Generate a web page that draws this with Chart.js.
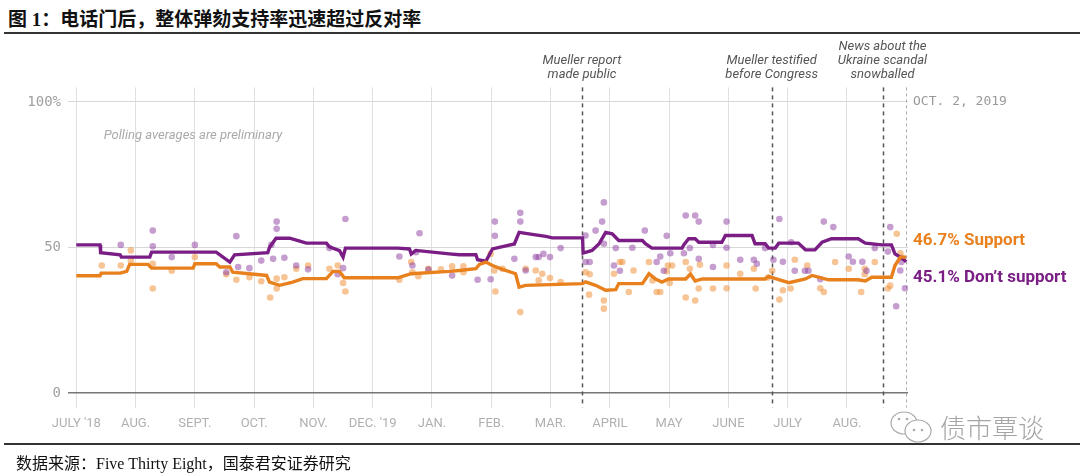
<!DOCTYPE html>
<html>
<head>
<meta charset="utf-8">
<script src="https://cdn.jsdelivr.net/npm/chart.js@4.4.0/dist/chart.umd.min.js"></script>
<style>
    body { margin: 0; background: #fff; }
    #wrap { position: relative; width: 1080px; height: 475px; overflow: hidden; }
    #chart { position: absolute; left: 0; top: 0; }
    .title { position: absolute; left: 8px; top: 4px; font: bold 19px 'Liberation Serif', 'Noto Sans CJK SC'; color: #111; white-space: nowrap; }
    .rule { position: absolute; left: 4px; right: 0; height: 2px; background: #333; }
    .source { position: absolute; left: 16px; top: 450px; font: 16px 'Liberation Serif', 'Noto Sans CJK SC'; color: #111; white-space: nowrap; }
</style>
</head>
<body>
<div id="wrap">
    <div class="title">图 1：电话门后，整体弹劾支持率迅速超过反对率</div>
    <div class="rule" style="top:32px"></div>
    <canvas id="chart" width="1080" height="475"></canvas>
    <div class="rule" style="top:443px"></div>
    <div class="source">数据来源：Five Thirty Eight，国泰君安证券研究</div>
</div>
<script>
// x values are months counted from the first gridline ("JULY '18" = 0)
const monthLabels = ["JULY '18", 'AUG.', 'SEPT.', 'OCT.', 'NOV.', "DEC. '19", 'JAN.', 'FEB.', 'MAR.', 'APRIL', 'MAY', 'JUNE', 'JULY', 'AUG.'];
const yTicks = [0, 50, 100];

const eventX = [8.53, 11.73, 13.60];
const eventText = [
    ['Mueller report', 'made public'],
    ['Mueller testified', 'before Congress'],
    ['News about the', 'Ukraine scandal', 'snowballed']
];
const endDate = 14.0;
const endDateLabel = 'OCT. 2, 2019';

// polling averages
const supportLine = [[0,40.3],[0.40,40.3],[0.42,41.2],[0.74,41.2],[0.85,41.8],[0.90,44.2],[1.21,44.2],[1.27,42.9],[1.97,42.9],[2.00,44.4],[2.36,44.4],[2.42,43.3],[2.59,43.3],[2.64,41.5],[3.21,40.4],[3.26,38.1],[3.43,37.0],[3.65,38.1],[3.82,39.3],[4.22,39.3],[4.33,41.8],[4.44,41.8],[4.52,39.6],[5.42,39.6],[5.65,41.0],[6.29,41.8],[6.46,42.1],[6.74,42.7],[6.80,44.2],[6.91,45.0],[7.02,43.8],[7.19,42.5],[7.41,41.0],[7.47,36.4],[7.58,37.0],[8.54,37.6],[8.59,38.2],[8.76,37.0],[8.93,35.3],[9.10,35.5],[9.15,37.6],[9.55,37.6],[9.66,41.0],[9.77,39.2],[9.88,38.1],[9.99,39.2],[10.28,39.2],[10.36,40.9],[10.44,38.5],[10.56,39.2],[11.62,39.2],[11.68,40.1],[11.85,39.0],[12.02,37.9],[12.30,39.2],[12.41,40.4],[12.52,39.8],[12.69,38.9],[13.19,38.9],[13.31,38.5],[13.42,39.8],[13.75,39.8],[13.81,43.8],[13.90,46.7],[14.0,46.7]];
const dontLine = [[0,50.9],[0.40,50.9],[0.41,48.2],[0.74,47.5],[0.76,46.7],[1.24,46.7],[1.27,48.4],[2.36,48.4],[2.59,45.0],[2.67,47.5],[3.23,48.2],[3.26,50.1],[3.37,53.2],[3.60,53.2],[3.77,52.2],[3.88,51.5],[4.22,51.5],[4.27,50.2],[4.44,48.9],[4.50,46.7],[4.54,49.8],[5.42,49.8],[5.62,49.5],[5.65,47.8],[5.73,49.0],[6.29,47.8],[6.46,47.5],[6.74,47.5],[6.77,45.8],[6.91,45.3],[7.02,49.5],[7.19,50.3],[7.39,51.2],[7.47,55.2],[7.69,54.5],[7.92,53.8],[8.03,53.3],[8.54,53.3],[8.55,48.1],[8.70,49.0],[8.82,51.3],[8.93,55.2],[9.04,54.7],[9.15,52.4],[9.55,52.4],[9.60,51.3],[9.71,49.8],[10.22,49.8],[10.25,51.0],[10.33,53.0],[10.44,53.0],[10.50,51.8],[10.89,51.8],[10.95,54.1],[11.40,54.1],[11.45,51.3],[11.62,51.3],[11.68,49.8],[11.79,49.8],[11.85,51.5],[12.18,51.5],[12.30,49.2],[12.46,49.2],[12.58,51.8],[12.74,53.0],[13.19,53.0],[13.31,51.5],[13.59,50.9],[13.75,50.9],[13.81,47.8],[13.92,46.5],[14.0,45.1]];

// individual polls
const supportPolls = [[0.43,43.8],[0.75,43.8],[0.92,49.0],[0.92,45.5],[1.29,44.4],[1.29,35.9],[1.61,42.0],[2.00,46.7],[2.53,40.8],[2.70,38.9],[2.92,39.8],[3.12,38.4],[3.27,32.8],[3.38,35.9],[3.38,39.3],[3.51,39.8],[3.71,42.7],[3.91,43.8],[4.27,42.7],[4.41,43.8],[4.50,37.8],[4.54,34.9],[5.45,38.9],[5.65,45.0],[5.67,41.5],[5.77,40.1],[5.94,42.7],[6.15,42.5],[6.34,43.5],[6.53,43.5],[6.53,41.5],[6.99,47.8],[7.05,42.1],[7.07,34.9],[7.19,42.7],[7.49,27.8],[7.58,42.7],[7.75,42.1],[7.80,38.7],[7.86,41.0],[7.99,39.5],[8.17,38.1],[8.59,41.5],[8.65,33.8],[8.66,40.8],[8.90,31.8],[8.90,29.0],[9.07,41.0],[9.17,45.0],[9.21,45.0],[9.32,34.7],[9.40,42.1],[9.66,45.0],[9.72,38.7],[9.79,34.7],[9.85,34.7],[9.96,41.8],[9.98,43.8],[10.01,37.8],[10.05,43.8],[10.28,45.0],[10.28,32.8],[10.35,42.7],[10.44,31.8],[10.50,35.9],[10.52,44.1],[10.74,35.9],[10.97,43.8],[10.97,36.0],[11.20,41.0],[11.43,42.7],[11.46,35.9],[11.67,39.7],[11.74,42.0],[11.86,32.1],[11.92,35.3],[12.05,35.9],[12.12,45.8],[12.33,43.8],[12.55,36.0],[12.61,34.7],[12.80,45.0],[13.03,42.7],[13.24,34.7],[13.30,42.7],[13.30,40.8],[13.47,45.0],[13.69,35.9],[13.73,36.9],[13.84,54.7],[13.90,48.0],[13.93,46.5]];
const dontPolls = [[0.75,50.9],[1.29,55.8],[1.29,50.4],[1.61,46.7],[2.00,50.9],[2.53,41.5],[2.70,53.9],[2.73,43.3],[2.92,42.9],[3.12,45.5],[3.29,50.9],[3.32,46.1],[3.38,58.9],[3.38,56.4],[3.51,46.5],[3.71,43.8],[3.91,42.5],[4.27,49.8],[4.41,40.8],[4.50,42.9],[4.54,59.8],[5.45,46.9],[5.67,43.8],[5.73,48.4],[5.79,54.9],[5.94,42.4],[6.34,40.4],[6.77,38.9],[6.99,39.1],[7.06,58.9],[7.06,54.0],[7.39,46.1],[7.49,61.9],[7.49,58.9],[7.58,42.1],[7.75,46.7],[7.80,46.7],[7.88,47.8],[7.99,46.7],[8.17,49.8],[8.59,54.1],[8.59,45.0],[8.66,45.0],[8.76,55.8],[8.87,58.9],[8.90,65.5],[8.90,51.3],[9.07,43.8],[9.10,49.8],[9.17,42.0],[9.38,49.9],[9.59,55.8],[9.79,45.0],[9.85,46.9],[9.91,42.0],[9.96,54.0],[10.02,48.0],[10.25,48.0],[10.28,61.0],[10.35,49.8],[10.44,61.0],[10.50,58.9],[10.50,46.1],[10.74,50.9],[10.74,43.3],[10.97,58.9],[10.97,49.9],[11.20,45.8],[11.43,45.8],[11.48,44.4],[11.62,49.8],[11.76,45.8],[11.86,59.8],[11.92,45.1],[12.06,51.8],[12.12,42.0],[12.29,42.0],[12.35,42.0],[12.55,39.1],[12.61,58.9],[12.77,57.0],[13.03,46.9],[13.10,45.1],[13.26,45.1],[13.33,42.0],[13.47,49.8],[13.69,48.6],[13.73,57.0],[13.83,29.8],[13.90,42.1],[13.92,45.0],[13.98,36.0]];

const ORANGE = '#e8801e';
const PURPLE = '#7a1e85';

const toPoints = arr => arr.map(p => ({ x: p[0], y: p[1] }));

// event lines, notes and the labels at the right end
const extras = {
    id: 'extras',
    beforeDatasetsDraw(chart) {
        const { ctx, chartArea, scales: { x } } = chart;
        ctx.save();
        ctx.setLineDash([4, 4]);
        ctx.strokeStyle = '#555';
        ctx.lineWidth = 1.5;
        eventX.forEach(v => {
            const px = Math.round(x.getPixelForValue(v)) + 0.5;
            ctx.beginPath();
            ctx.moveTo(px, chartArea.top);
            ctx.lineTo(px, chartArea.bottom);
            ctx.stroke();
        });
        ctx.setLineDash([3, 3]);
        ctx.strokeStyle = '#aaa';
        ctx.lineWidth = 1;
        const ex = Math.round(x.getPixelForValue(endDate)) + 0.5;
        ctx.beginPath();
        ctx.moveTo(ex, chartArea.top);
        ctx.lineTo(ex, chartArea.bottom);
        ctx.stroke();
        ctx.restore();
    },
    afterDraw(chart) {
        const { ctx, scales: { x, y } } = chart;
        ctx.save();
        ctx.textBaseline = 'middle';

        // event notes
        ctx.fillStyle = '#555';
        ctx.font = 'italic 13px Roboto';
        ctx.textAlign = 'center';
        eventText.forEach((lines, i) => {
            const px = x.getPixelForValue(eventX[i]);
            lines.forEach((t, j) => {
                ctx.fillText(t, px, 75 - (lines.length - 1 - j) * 14);
            });
        });

        ctx.fillStyle = '#aaa';
        ctx.font = 'italic 13px Roboto';
        ctx.fillText('Polling averages are preliminary', 193, 136);

        // end date
        ctx.textAlign = 'left';
        ctx.fillStyle = '#999';
        ctx.font = '13px "DejaVu Sans Mono"';
        ctx.fillText(endDateLabel, 913, y.getPixelForValue(100));

        // end values
        const sLast = supportLine[supportLine.length - 1][1];
        const dLast = dontLine[dontLine.length - 1][1];
        ctx.font = 'bold 17px Roboto';
        ctx.fillStyle = ORANGE;
        ctx.fillText(sLast.toFixed(1) + '% Support', 913, 241);
        ctx.fillStyle = PURPLE;
        ctx.fillText(dLast.toFixed(1) + '% Don\u2019t support', 913, 278);

        // watermark
        ctx.strokeStyle = '#aaa';
        ctx.lineWidth = 1.2;
        ctx.beginPath();
        ctx.ellipse(904, 423, 13, 11, 0, 0, Math.PI * 2);
        ctx.stroke();
        ctx.fillStyle = '#fff';
        ctx.beginPath();
        ctx.ellipse(918, 431, 13, 11, 0, 0, Math.PI * 2);
        ctx.fill();
        ctx.stroke();
        ctx.fillStyle = '#aaa';
        [[899, 419], [907, 419], [914, 430], [922, 430]].forEach(p => {
            ctx.beginPath();
            ctx.arc(p[0], p[1], 1.3, 0, Math.PI * 2);
            ctx.fill();
        });
        ctx.font = '300 26px "Noto Sans CJK SC"';
        ctx.fillStyle = '#a5a5a5';
        ctx.fillText('债市覃谈', 940, 428);
        ctx.restore();
    }
};

new Chart(document.getElementById('chart'), {
    type: 'scatter',
    data: {
        datasets: [
            {
                type: 'line',
                label: 'Support',
                data: toPoints(supportLine),
                borderColor: ORANGE,
                borderWidth: 3.4,
                pointRadius: 0,
                tension: 0,
                order: 0
            },
            {
                type: 'line',
                label: "Don't support",
                data: toPoints(dontLine),
                borderColor: PURPLE,
                borderWidth: 3.4,
                pointRadius: 0,
                tension: 0,
                order: 0
            },
            {
                label: 'Support polls',
                data: toPoints(supportPolls),
                backgroundColor: 'rgba(240, 148, 62, 0.55)',
                borderWidth: 0,
                pointRadius: 3.3,
                order: 2
            },
            {
                label: "Don't support polls",
                data: toPoints(dontPolls),
                backgroundColor: 'rgba(140, 60, 160, 0.5)',
                borderWidth: 0,
                pointRadius: 3.3,
                order: 1
            }
        ]
    },
    options: {
        responsive: false,
        animation: false,
        layout: { padding: { left: 0, top: 87.4, right: 172, bottom: 37.4 } },
        plugins: {
            legend: { display: false },
            tooltip: { enabled: false }
        },
        scales: {
            x: {
                type: 'linear',
                min: -0.14,
                max: 14.03,
                afterBuildTicks: scale => { scale.ticks = monthLabels.map((_, i) => ({ value: i })); },
                afterFit: scale => { scale.height = 30; },
                ticks: {
                    callback: v => monthLabels[v],
                    color: '#b0b0b0',
                    font: { family: "'Liberation Sans Narrow', Roboto", size: 13 },
                    padding: 8,
                    maxRotation: 0,
                    autoSkip: false
                },
                grid: { color: '#e0e0e0', drawTicks: false },
                border: { display: false }
            },
            y: {
                min: -5,
                max: 105,
                afterBuildTicks: scale => { scale.ticks = yTicks.map(v => ({ value: v })); },
                afterFit: scale => { scale.width = 68; },
                ticks: {
                    callback: v => v === 100 ? '100%' : String(v),
                    color: '#a0a0a0',
                    font: { family: "'DejaVu Sans Mono'", size: 14 },
                    padding: 7
                },
                grid: {
                    color: ctx => ctx.tick && ctx.tick.value === 0 ? '#777' : '#d8d8d8',
                    lineWidth: ctx => ctx.tick && ctx.tick.value === 0 ? 1.5 : 1,
                    drawTicks: false
                },
                border: { display: false }
            }
        }
    },
    plugins: [extras]
});
</script>
</body>
</html>
